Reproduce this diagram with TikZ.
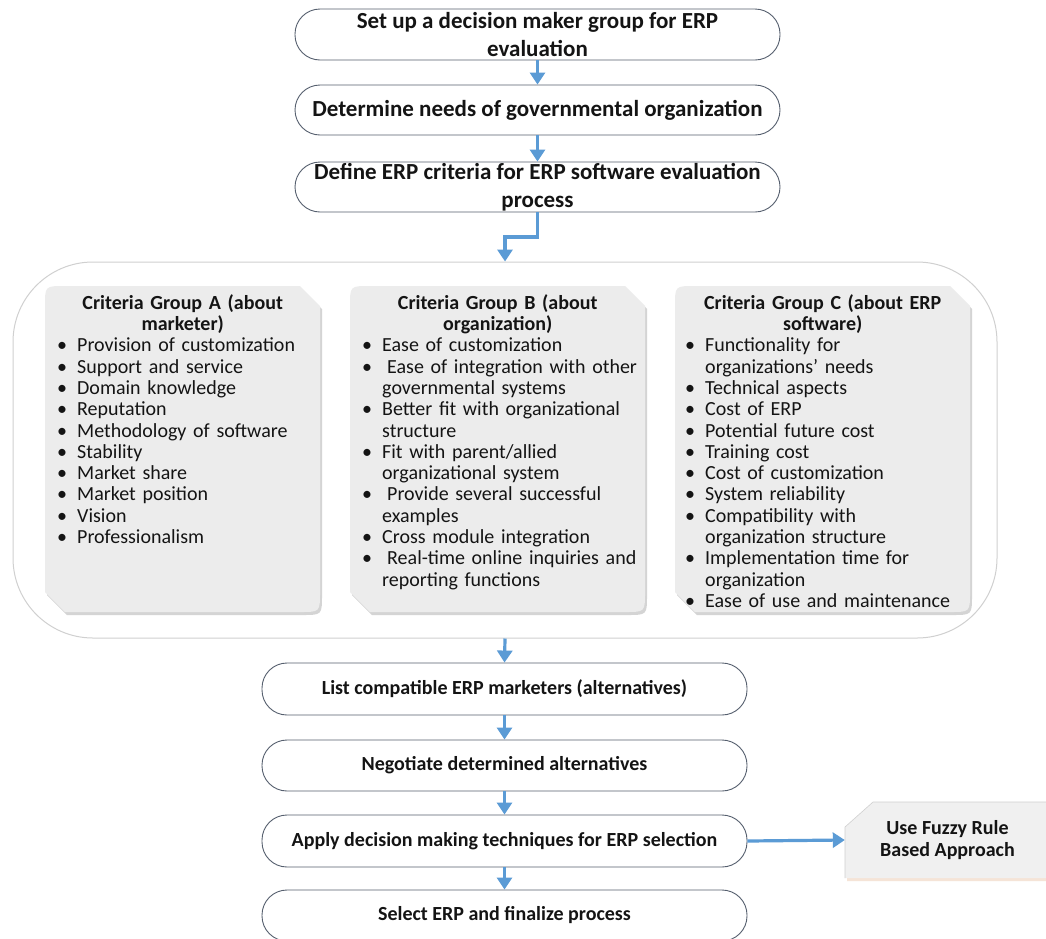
\documentclass[tikz,border=0pt]{standalone}
\usepackage{fontspec}
\setmainfont{Carlito}
\usetikzlibrary{arrows.meta,calc}
\definecolor{arr}{RGB}{91,155,213}
\definecolor{bord}{RGB}{85,95,110}
\definecolor{grp}{RGB}{236,236,236}
\definecolor{grpsh}{RGB}{212,212,212}
\definecolor{contc}{RGB}{208,208,208}
\definecolor{fuzsh}{RGB}{245,228,215}
\definecolor{txt}{RGB}{20,20,20}
\newcommand{\gsetup}{\setlength{\parindent}{0pt}\setlength{\parskip}{0pt}}
\newcommand{\bu}[1]{\par\mbox{\makebox[20pt][l]{\textbullet}#1}}
\newcommand{\cn}[1]{\par\mbox{\hspace*{20pt}#1}}
\newcommand{\grpshape}[2]{%
  \fill[grpsh] (#1+2,595) -- (#1+2,309) .. controls (#1+2,289) .. (#1+22,289) -- (#2-18,289) -- (#2+2,309) -- (#2+2,595) .. controls (#2+2,615) .. (#2-18,615) -- (#1+22,615) -- cycle;
  \fill[grp] (#1,592) -- (#1,306) .. controls (#1,286) .. (#1+20,286) -- (#2-20,286) -- (#2,306) -- (#2,592) .. controls (#2,612) .. (#2-20,612) -- (#1+20,612) -- cycle;}
\begin{document}
\begin{tikzpicture}[x=1pt,y=-1pt,
  flow/.style={draw=bord,line width=0.9pt,rounded corners=25pt,minimum width=485pt,inner sep=0pt,align=center,text=txt,font=\bfseries\fontsize{23}{28}\selectfont},
  flowb/.style={flow,font=\bfseries\fontsize{20}{24}\selectfont},
  arrow/.style={draw=arr,line width=3.2pt,-{Triangle[width=15pt,length=12pt]}},
  grptext/.style={anchor=north west,inner sep=0pt,align=left,text=txt,font=\fontsize{20}{21.3}\selectfont},
]
\clip (0,0) rectangle (1046,938);
\fill[white] (0,0) rectangle (1046,938);

% container
\node[draw=contc,line width=1pt,rounded corners=80pt,minimum width=984pt,minimum height=376pt] (ct) at (505,450) {};

% group boxes
\grpshape{45}{320}
\grpshape{350}{645}
\grpshape{675}{970}

\node[grptext,text width=251pt] (ga) at (57,293) {\gsetup
{\centering\bfseries\rule{0pt}{16pt}Criteria Group A (about\\marketer)\par}
\bu{Provision of customization}
\bu{Support and service}
\bu{Domain knowledge}
\bu{Reputation}
\bu{Methodology of software}
\bu{Stability}
\bu{Market share}
\bu{Market position}
\bu{Vision}
\bu{Professionalism}};

\node[grptext,text width=271pt] (gb) at (362,293) {\gsetup
{\centering\bfseries\rule{0pt}{16pt}Criteria Group B (about\\organization)\par}
\bu{Ease of customization}
\bu{\hspace{5pt}Ease of integration with other}
\cn{governmental systems}
\bu{Better fit with organizational}
\cn{structure}
\bu{Fit with parent/allied}
\cn{organizational system}
\bu{\hspace{5pt}Provide several successful}
\cn{examples}
\bu{Cross module integration}
\bu{\hspace{5pt}Real-time online inquiries and}
\cn{reporting functions}};

\node[grptext,text width=275pt] (gc) at (685,293) {\gsetup
{\centering\bfseries\rule{0pt}{16pt}Criteria Group C (about ERP\\software)\par}
\bu{Functionality for}
\cn{organizations’ needs}
\bu{Technical aspects}
\bu{Cost of ERP}
\bu{Potential future cost}
\bu{Training cost}
\bu{Cost of customization}
\bu{System reliability}
\bu{Compatibility with}
\cn{organization structure}
\bu{Implementation time for}
\cn{organization}
\bu{Ease of use and maintenance}};

% top flow
\node[flow,minimum height=51pt] (b1) at (537.5,34.5) {Set up a decision maker group for ERP\\evaluation};
\node[flow,minimum height=50pt] (b2) at (537.5,110) {Determine needs of governmental organization};
\node[flow,minimum height=50pt] (b3) at (537.5,187) {Define ERP criteria for ERP software evaluation\\process};

% bottom flow
\node[flowb,minimum height=52pt] (l1) at (504.5,689) {List compatible ERP marketers (alternatives)};
\node[flowb,minimum height=51pt] (l2) at (504.5,765.5) {Negotiate determined alternatives};
\node[flowb,minimum height=52pt] (l3) at (504.5,841) {Apply decision making techniques for ERP selection};
\node[flowb,minimum height=51pt] (l4) at (504.5,915.5) {Select ERP and finalize process};

% fuzzy box
\fill[fuzsh] (847,830) -- (875,805) -- (1050,805) -- (1050,881) -- (847,881) -- cycle;
\fill[grp!80!white] (845,827) -- (873,802) -- (1050,802) -- (1050,878) -- (845,878) -- cycle;
\draw[contc,line width=0.6pt] (845,878) -- (845,827) -- (873,802) -- (1050,802);
\node[inner sep=0pt,minimum width=205pt,minimum height=76pt,align=center,text=txt,font=\bfseries\fontsize{20}{22}\selectfont] (fz) at (947.5,840) {Use Fuzzy Rule\\Based Approach};

% arrows
\draw[arrow] (b1.south) -- (b2.north);
\draw[arrow] (b2.south) -- (b3.north);
\draw[arrow] (b3.south) |- ($(b3.south)!0.5!(ct.north)$) -| (ct.north);
\draw[arrow] (ct.south) -- (l1.north);
\draw[arrow] (l1.south) -- (l2.north);
\draw[arrow] (l2.south) -- (l3.north);
\draw[arrow] (l3.south) -- (l4.north);
\draw[arrow] (l3.east) -- (fz.west);
\end{tikzpicture}
\end{document}
